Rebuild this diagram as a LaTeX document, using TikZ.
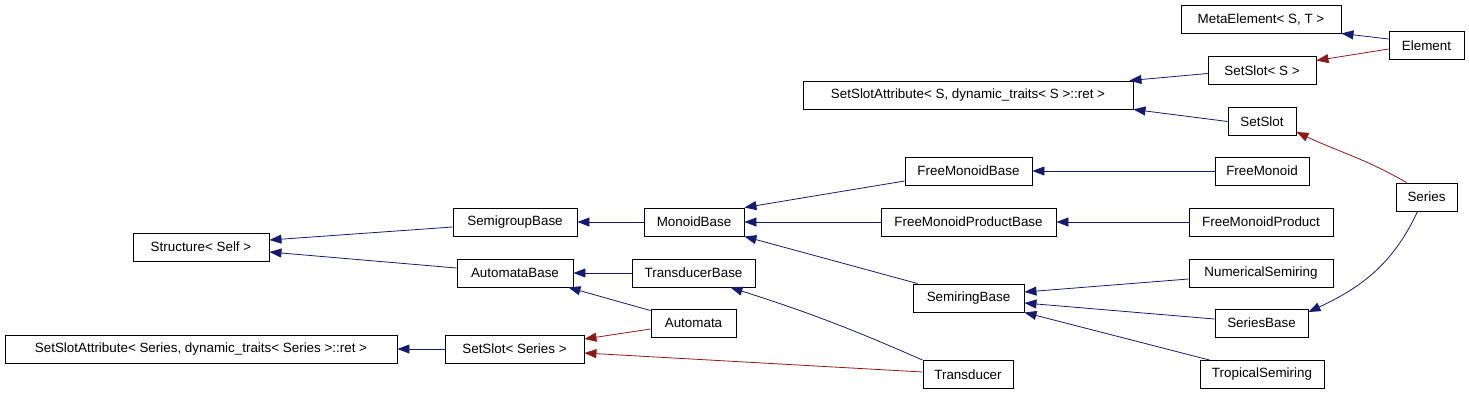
\documentclass[tikz,border=0pt]{standalone}
\usepackage{fontspec}
\setmainfont{Liberation Sans}
\usepackage{tikz}
\usetikzlibrary{arrows.meta}
\definecolor{inhblue}{HTML}{191970}
\definecolor{tmplred}{HTML}{8B1A1A}

\begin{document}
\begin{tikzpicture}[x=1pt,y=-1pt, every node/.style={font=\fontsize{13.4}{15}\selectfont}]
		\tikzstyle{cls}=[draw, line width=0.9pt, minimum height=28pt, inner sep=0pt]
		\tikzstyle{pub}=[color=inhblue, line width=0.8pt, -{Triangle[length=12pt,width=9pt]}]
		\tikzstyle{tmpl}=[color=tmplred, line width=0.8pt, -{Triangle[length=12pt,width=9pt]}]
		
		\useasboundingbox (0,0) rectangle (1469,392);
		
		\node[cls, minimum width=160pt] (meta)        at (1261,19)    {MetaElement< S, T >};
		\node[cls, minimum width=75pt]  (element)     at (1426.5,45.5) {Element};
		\node[cls, minimum width=108pt] (setslotS)    at (1262,70.5)  {SetSlot< S >};
		\node[cls, minimum width=68pt]  (setslot)     at (1262,121.5) {SetSlot};
		\node[cls, minimum width=330pt] (ssattrS)     at (968,95)     {SetSlotAttribute< S, dynamic\_traits< S >::ret >};
		\node[cls, minimum width=136pt] (structure)   at (201,247)    {Structure< Self >};
		\node[cls, minimum width=124pt] (semigroup)   at (515,222)    {SemigroupBase};
		\node[cls, minimum width=100pt] (monoid)      at (694,222)    {MonoidBase};
		\node[cls, minimum width=127pt] (fmonbase)    at (968.5,171)  {FreeMonoidBase};
		\node[cls, minimum width=175pt] (fmpbase)     at (968.5,222)  {FreeMonoidProductBase};
		\node[cls, minimum width=94pt]  (fmon)        at (1262,171)   {FreeMonoid};
		\node[cls, minimum width=144pt] (fmp)         at (1261,222)   {FreeMonoidProduct};
		\node[cls, minimum width=61pt]  (series)      at (1426.5,197) {Series};
		\node[cls, minimum width=144pt] (numerical)   at (1261,273)   {NumericalSemiring};
		\node[cls, minimum width=111pt] (semiring)    at (968.5,298)  {SemiringBase};
		\node[cls, minimum width=116pt] (autbase)     at (515,273)    {AutomataBase};
		\node[cls, minimum width=123pt] (transbase)   at (693.5,273)  {TransducerBase};
		\node[cls, minimum width=85pt]  (automata)    at (693.5,323)  {Automata};
		\node[cls, minimum width=139pt] (setslotSer)  at (514.5,349)  {SetSlot< Series >};
		\node[cls, minimum width=392pt] (ssattrSer)   at (201,349)    {SetSlotAttribute< Series, dynamic\_traits< Series >::ret >};
		\node[cls, minimum width=90pt]  (transducer)  at (968,374.5)  {Transducer};
		\node[cls, minimum width=93pt]  (seriesbase)  at (1261.5,323) {SeriesBase};
		\node[cls, minimum width=124pt] (tropical)    at (1262,374.5) {TropicalSemiring};
		
		\path[pub]
		([yshift=6.5pt]element.west)     edge (meta.south east)
		([yshift=-3pt]setslotS.west)     edge ([xshift=-4pt]ssattrS.north east)
		(setslot.west)                   edge (ssattrS.south east)
		([xshift=22pt]series.south west) edge [out=-115, in=25] ([yshift=11pt]seriesbase.east)
		(fmon.west)                      edge (fmonbase.east)
		(fmp.west)                       edge (fmpbase.east)
		([yshift=-10pt]fmonbase.west)    edge (monoid.north east)
		(fmpbase.west)                   edge (monoid.east)
		([xshift=5pt]semiring.north west) edge (monoid.south east)
		(monoid.west)                    edge (semigroup.east)
		([yshift=-5pt]semigroup.west)    edge ([yshift=7pt]structure.east)
		([yshift=5pt]autbase.west)       edge ([yshift=-5pt]structure.east)
		(transbase.west)                 edge (autbase.east)
		([yshift=-2pt]automata.north west) edge ([xshift=-5pt]autbase.south east)
		(transducer.north west)          edge [bend right=3] ([xshift=-25pt]transbase.south east)
		(setslotSer.west)                edge (ssattrSer.east)
		([yshift=-6pt]numerical.west)    edge ([yshift=6pt]semiring.east)
		([yshift=4pt]seriesbase.west)    edge ([yshift=-5pt]semiring.east)
		([xshift=10pt]tropical.north west) edge (semiring.south east)
		;
		
		\path[tmpl]
		([yshift=-3.5pt]element.west)    edge ([yshift=10pt]setslotS.east)
		([xshift=11pt]series.north west) edge [out=150, in=-25] ([yshift=-10.5pt]setslot.east)
		([yshift=-6pt]automata.west)     edge ([yshift=10pt]setslotSer.east)
		([yshift=2.5pt]transducer.west)  edge ([yshift=-4pt]setslotSer.east)
		;
\end{tikzpicture}
\end{document}
